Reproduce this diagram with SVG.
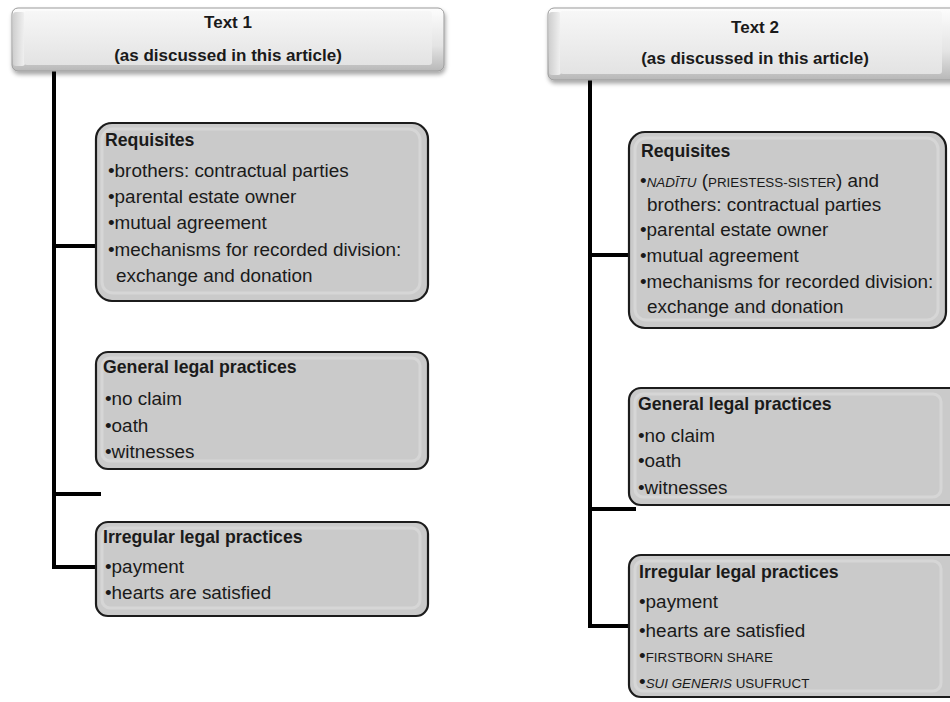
<svg xmlns="http://www.w3.org/2000/svg" width="950" height="702" viewBox="0 0 950 702">
<defs>
  <linearGradient id="hdrOuter" x1="0" y1="0" x2="0" y2="1">
    <stop offset="0" stop-color="#fdfdfd"/>
    <stop offset="0.6" stop-color="#e4e4e4"/>
    <stop offset="1" stop-color="#b8b8b8"/>
  </linearGradient>
  <linearGradient id="hdrFace" x1="0" y1="0" x2="0" y2="1">
    <stop offset="0" stop-color="#f7f7f7"/>
    <stop offset="1" stop-color="#e3e3e3"/>
  </linearGradient>
  <linearGradient id="bevelL" x1="0" y1="0" x2="1" y2="0">
    <stop offset="0" stop-color="#cfcfcf"/>
    <stop offset="1" stop-color="#f2f2f2"/>
  </linearGradient>
  <filter id="shadow" x="-5%" y="-10%" width="110%" height="130%">
    <feDropShadow dx="1" dy="3" stdDeviation="2" flood-color="#000" flood-opacity="0.35"/>
  </filter>
</defs>
<style>
  .hdr-out { fill: url(#hdrOuter); stroke: #9a9a9a; stroke-width: 1; filter: url(#shadow); }
  .hdr-face { fill: url(#hdrFace); stroke: none; }
  .hdr-txt { font-family: "Liberation Sans", Arial, sans-serif; font-weight: bold; font-size: 17px; fill: #1a1a1a; text-anchor: middle; }
  .box { fill: #cacaca; stroke: #1c1c1c; stroke-width: 2.2; }
  .box-hl { fill: none; stroke: #d6d6d6; stroke-width: 3; }
  .head { font-family: "Liberation Sans", Arial, sans-serif; font-weight: bold; font-size: 17.7px; fill: #1a1a1a; }
  .item { font-family: "Liberation Sans", Arial, sans-serif; font-size: 18.9px; fill: #1a1a1a; }
  .sc { font-size: 13.4px; }
  .it { font-style: italic; }
  .conn { stroke: #000; stroke-width: 4; fill: none; }
</style>

<g id="connectors">
  <path class="conn" d="M54 71 V569"/>
  <path class="conn" d="M52 246 H97"/>
  <path class="conn" d="M52 494 H101"/>
  <path class="conn" d="M52 567 H97"/>
  <path class="conn" d="M590 80 V628"/>
  <path class="conn" d="M588 255 H630"/>
  <path class="conn" d="M588 509 H636"/>
  <path class="conn" d="M588 626 H630"/>
</g>

<g id="header1">
  <rect class="hdr-out" x="12" y="8" width="432" height="63" rx="6"/>
  <rect x="13" y="12" width="12" height="54" rx="3" fill="url(#bevelL)"/>
  <rect class="hdr-face" x="24" y="11" width="408" height="54" rx="3"/>
  <text class="hdr-txt" x="228" y="28">Text 1</text>
  <text class="hdr-txt" x="228" y="61">(as discussed in this article)</text>
</g>

<g id="header2">
  <rect class="hdr-out" x="548" y="8" width="414" height="72" rx="6"/>
  <rect x="549" y="12" width="12" height="63" rx="3" fill="url(#bevelL)"/>
  <rect class="hdr-face" x="560" y="11" width="382" height="63" rx="3"/>
  <text class="hdr-txt" x="755" y="33">Text 2</text>
  <text class="hdr-txt" x="755" y="64">(as discussed in this article)</text>
</g>

<g id="requisites1">
  <rect class="box" x="96" y="123" width="332" height="178" rx="16"/>
  <rect class="box-hl" x="102" y="129" width="318" height="164" rx="11"/>
  <text class="head" x="105" y="146">Requisites</text>
  <text class="item" x="108" y="177">•brothers: contractual parties</text>
  <text class="item" x="108" y="203">•parental estate owner</text>
  <text class="item" x="108" y="229">•mutual agreement</text>
  <text class="item" x="108" y="256">•mechanisms for recorded division:</text>
  <text class="item" x="116" y="282">exchange and donation</text>
</g>

<g id="general1">
  <rect class="box" x="96" y="352" width="332" height="117" rx="12"/>
  <rect class="box-hl" x="102" y="358" width="318" height="103" rx="8"/>
  <text class="head" x="103" y="373">General legal practices</text>
  <text class="item" x="105" y="405">•no claim</text>
  <text class="item" x="105" y="432">•oath</text>
  <text class="item" x="105" y="458">•witnesses</text>
</g>

<g id="irregular1">
  <rect class="box" x="96" y="522" width="332" height="94" rx="12"/>
  <rect class="box-hl" x="102" y="528" width="318" height="80" rx="8"/>
  <text class="head" x="103" y="543">Irregular legal practices</text>
  <text class="item" x="105" y="573">•payment</text>
  <text class="item" x="105" y="599">•hearts are satisfied</text>
</g>

<g id="requisites2">
  <rect class="box" x="629" y="132" width="317" height="196" rx="16"/>
  <rect class="box-hl" x="635" y="138" width="303" height="182" rx="11"/>
  <text class="head" x="641" y="157">Requisites</text>
  <text class="item" x="640" y="187">•<tspan class="sc it">NADĪTU</tspan> (<tspan class="sc">PRIESTESS-SISTER</tspan>) and</text>
  <text class="item" x="647" y="211">brothers: contractual parties</text>
  <text class="item" x="640" y="236">•parental estate owner</text>
  <text class="item" x="640" y="262">•mutual agreement</text>
  <text class="item" x="640" y="288">•mechanisms for recorded division:</text>
  <text class="item" x="647" y="313">exchange and donation</text>
</g>

<g id="general2">
  <rect class="box" x="629" y="388" width="340" height="117" rx="12"/>
  <rect class="box-hl" x="635" y="394" width="306" height="103" rx="8"/>
  <text class="head" x="638" y="410">General legal practices</text>
  <text class="item" x="638" y="442">•no claim</text>
  <text class="item" x="638" y="467">•oath</text>
  <text class="item" x="638" y="494">•witnesses</text>
</g>

<g id="irregular2">
  <rect class="box" x="629" y="555" width="340" height="142" rx="12"/>
  <rect class="box-hl" x="635" y="561" width="306" height="130" rx="8"/>
  <text class="head" x="639" y="578">Irregular legal practices</text>
  <text class="item" x="639" y="608">•payment</text>
  <text class="item" x="639" y="637">•hearts are satisfied</text>
  <text class="item" x="639" y="662">•<tspan class="sc">FIRSTBORN SHARE</tspan></text>
  <text class="item" x="639" y="688">•<tspan class="sc it">SUI GENERIS</tspan><tspan class="sc"> USUFRUCT</tspan></text>
</g>
</svg>
